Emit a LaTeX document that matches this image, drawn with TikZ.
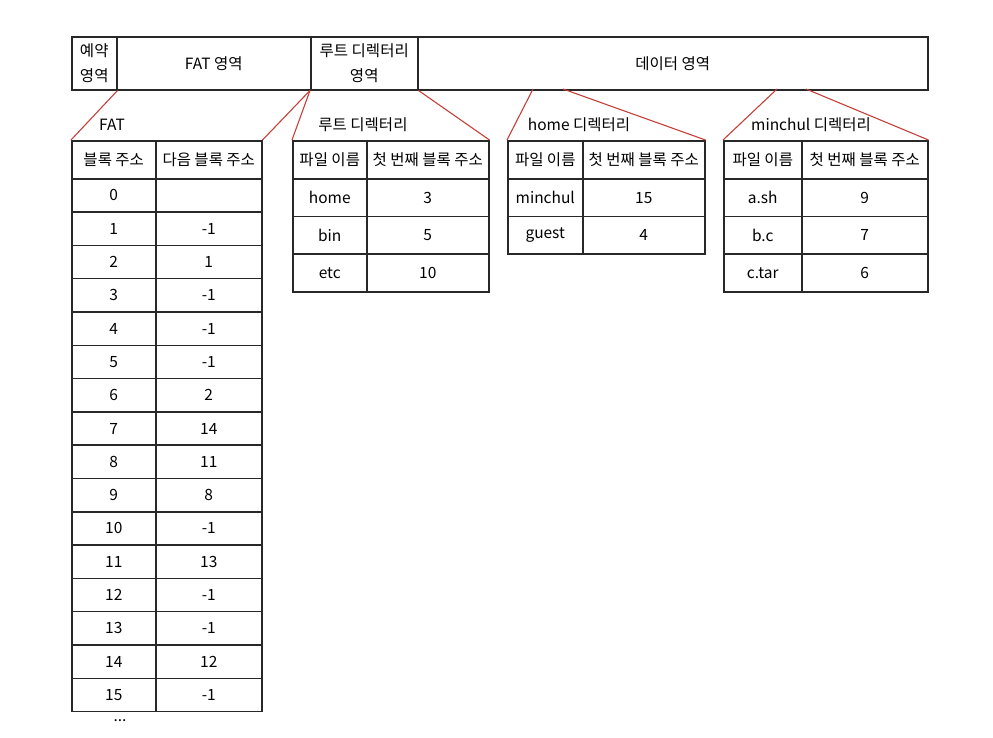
\documentclass[tikz,border=0pt]{standalone}
\usepackage{fontspec}
\setmainfont{Noto Sans CJK KR}
\usetikzlibrary{positioning}
\definecolor{linegray}{RGB}{40,40,40}
\definecolor{zoomred}{RGB}{196,64,56}
\tikzset{
  cell/.style={draw=linegray, line width=1.5pt, inner sep=0pt, anchor=north west, font=\fontsize{15.5}{25}\selectfont},
  zoomline/.style={draw=zoomred, line width=1.1pt},
  title/.style={font=\fontsize{15.5}{18}\selectfont},
}

\begin{document}
\begin{tikzpicture}[x=1pt,y=-1pt]
  \useasboundingbox (0,0) rectangle (993,737);
  % disk layout
  \node[cell, minimum width=45, minimum height=53, align=center] (rsv) at (71,36) {예약\\영역};
  \node[cell, minimum width=194, minimum height=53] (fat) at (116,36) {FAT 영역};
  \node[cell, minimum width=107, minimum height=53, align=center] (root) at (310,36) {루트 디렉터리\\영역};
  \node[cell, minimum width=510, minimum height=53] (data) at (417,36) {데이터 영역};
  \coordinate (d1) at (533,89);
  \coordinate (d2) at (563,89);
  \coordinate (d3) at (777,89);
  \coordinate (d4) at (806,89);

  % FAT
  \node[title] (fat-title) at (112,125) {FAT};
  \node[cell, minimum width=84, minimum height=38] (fat-h1) at (71,140) {블록 주소};
  \node[cell, minimum width=106, minimum height=38] (fat-h2) at (155,140) {다음 블록 주소};
  \foreach \blk/\nxt [count=\i from 0] in {0/{},1/-1,2/1,3/-1,4/-1,5/-1,6/2,7/14,8/11,9/8,10/-1,11/13,12/-1,13/-1,14/12,15/-1}{
    \node[cell, minimum width=84, minimum height=33.3] (fat-\i-a) at (71,178+\i*33.3) {\blk};
    \node[cell, minimum width=106, minimum height=33.3] (fat-\i-b) at (155,178+\i*33.3) {\nxt};
  }
  \node[title] (dots) at (120,721) {...};

  % root directory
  \node[title] (rt-title) at (363,125) {루트 디렉터리};
  \node[cell, minimum width=74, minimum height=38] (rt-h1) at (292,140) {파일 이름};
  \node[cell, minimum width=122, minimum height=38] (rt-h2) at (366,140) {첫 번째 블록 주소};
  \foreach \fname/\fblk [count=\i from 0] in {home/3,bin/5,etc/10}{
    \node[cell, minimum width=74, minimum height=37.7] (rt-\i-a) at (292,178+\i*37.7) {\fname};
    \node[cell, minimum width=122, minimum height=37.7] (rt-\i-b) at (366,178+\i*37.7) {\fblk};
  }

  % home directory
  \node[title] (hm-title) at (579,125) {home 디렉터리};
  \node[cell, minimum width=75, minimum height=38] (hm-h1) at (507,140) {파일 이름};
  \node[cell, minimum width=122, minimum height=38] (hm-h2) at (582,140) {첫 번째 블록 주소};
  \foreach \fname/\fblk [count=\i from 0] in {minchul/15,guest/4}{
    \node[cell, minimum width=75, minimum height=37.7] (hm-\i-a) at (507,178+\i*37.7) {\fname};
    \node[cell, minimum width=122, minimum height=37.7] (hm-\i-b) at (582,178+\i*37.7) {\fblk};
  }

  % minchul directory
  \node[title] (mc-title) at (811,125) {minchul 디렉터리};
  \node[cell, minimum width=78, minimum height=38] (mc-h1) at (723,140) {파일 이름};
  \node[cell, minimum width=126, minimum height=38] (mc-h2) at (801,140) {첫 번째 블록 주소};
  \foreach \fname/\fblk [count=\i from 0] in {a.sh/9,b.c/7,c.tar/6}{
    \node[cell, minimum width=78, minimum height=37.7] (mc-\i-a) at (723,178+\i*37.7) {\fname};
    \node[cell, minimum width=126, minimum height=37.7] (mc-\i-b) at (801,178+\i*37.7) {\fblk};
  }

  % zoom lines
  \draw[zoomline] (rsv.south east) -- (fat-h1.north west);
  \draw[zoomline] (root.south west) -- (fat-h2.north east);
  \draw[zoomline] (root.south west) -- (rt-h1.north west);
  \draw[zoomline] (root.south east) -- (rt-h2.north east);
  \draw[zoomline] (d1) -- (hm-h1.north west);
  \draw[zoomline] (d2) -- (hm-h2.north east);
  \draw[zoomline] (d3) -- (mc-h1.north west);
  \draw[zoomline] (d4) -- (mc-h2.north east);
\end{tikzpicture}
\end{document}
